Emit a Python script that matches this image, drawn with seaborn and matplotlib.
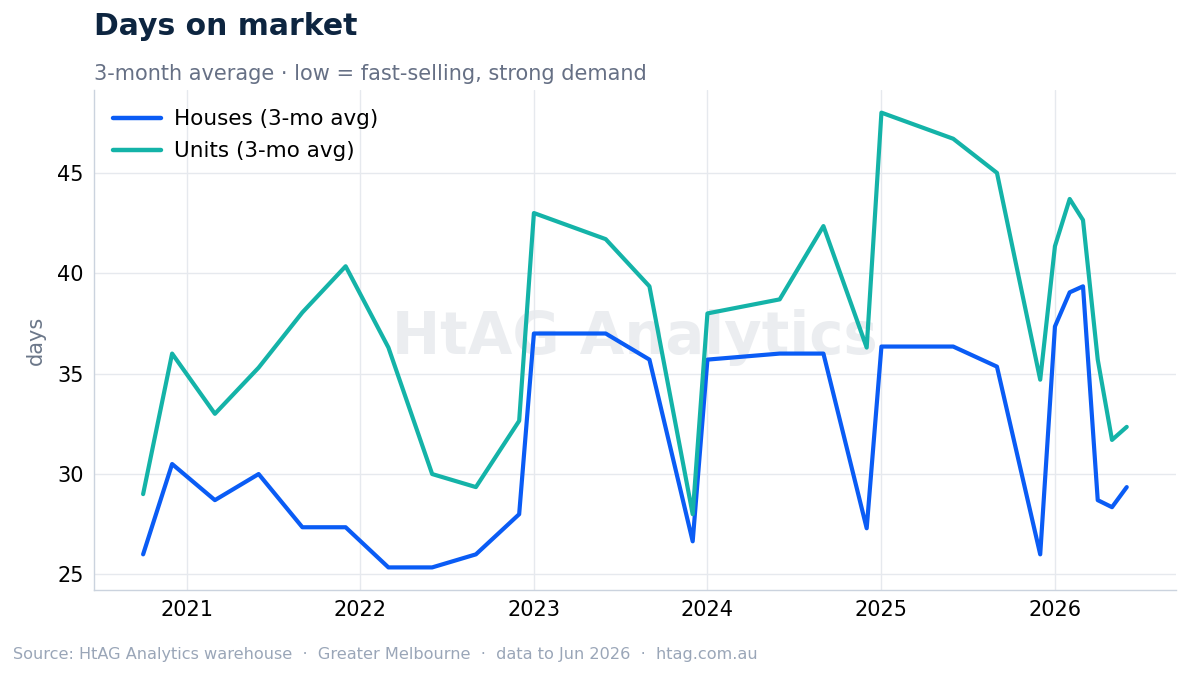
import matplotlib
matplotlib.use("Agg")
import matplotlib.pyplot as plt
import matplotlib.dates as mdates
import seaborn as sns
import pandas as pd

# month-start dates of each 3-month average
months = ["2020-10", "2020-12", "2021-03", "2021-06", "2021-09", "2021-12",
          "2022-03", "2022-06", "2022-09", "2022-12", "2023-01", "2023-06",
          "2023-09", "2023-12", "2024-01", "2024-06", "2024-09", "2024-12",
          "2025-01", "2025-06", "2025-09", "2025-12", "2026-01", "2026-02",
          "2026-03", "2026-04", "2026-05", "2026-06"]
houses = [26.0, 30.5, 28.7, 30.0, 27.35, 27.35, 25.35, 25.35, 26.0, 28.0,
          37.0, 37.0, 35.7, 26.65, 35.7, 36.0, 36.0, 27.3, 36.35, 36.35,
          35.35, 26.0, 37.35, 39.05, 39.35, 28.7, 28.35, 29.35]
units = [29.0, 36.0, 33.0, 35.3, 38.05, 40.35, 36.3, 30.0, 29.35, 32.65,
         43.0, 41.7, 39.35, 28.0, 38.0, 38.7, 42.35, 36.3, 48.0, 46.7,
         45.0, 34.7, 41.35, 43.7, 42.65, 35.7, 31.7, 32.35]

series_names = ["Houses (3-mo avg)", "Units (3-mo avg)"]
palette = {"Houses (3-mo avg)": "#0a5cf5", "Units (3-mo avg)": "#14b3a8"}

df = pd.DataFrame({
    "date": pd.to_datetime(months * 2),
    "days": houses + units,
    "series": [series_names[0]] * len(houses) + [series_names[1]] * len(units),
})

sns.set_style("white")
plt.rcParams["font.family"] = ["DejaVu Sans"]

fig = plt.figure(figsize=(11.89, 6.76), dpi=100)
ax = fig.add_axes([0.079, 0.127, 0.910, 0.740])

sns.lineplot(data=df, x="date", y="days", hue="series", palette=palette,
             linewidth=3.0, ax=ax)

# grid and spines
ax.grid(True, color="#e6e9ee", linewidth=1.0)
ax.set_axisbelow(True)
for side in ["top", "right"]:
    ax.spines[side].set_visible(False)
for side in ["left", "bottom"]:
    ax.spines[side].set_color("#cbd3de")
    ax.spines[side].set_linewidth(1.0)

ax.xaxis.set_major_locator(mdates.YearLocator())
ax.xaxis.set_major_formatter(mdates.DateFormatter("%Y"))
ax.set_yticks([25, 30, 35, 40, 45])
ax.tick_params(axis="both", labelsize=15, colors="black", length=4,
               color="#444444", width=0.8)
ax.tick_params(axis="x", pad=3)
ax.set_xlabel("")
ax.set_ylabel("days", fontsize=15, color="#6b7789", labelpad=8)

leg = ax.legend(loc="upper left", frameon=False, fontsize=15.5,
                handlelength=2.2, handletextpad=0.6, borderaxespad=0.5,
                labelspacing=0.55)
for text in leg.get_texts():
    text.set_color("black")
for line in leg.get_lines():
    line.set_linewidth(3.2)

# watermark
ax.text(0.5, 0.505, "HtAG Analytics", transform=ax.transAxes, ha="center",
        va="center", fontsize=41.5, fontweight="bold", color="#e3e6ea",
        alpha=0.7, zorder=0)

fig.text(0.079, 1 - 12 / 676, "Days on market", fontsize=21.5,
         fontweight="bold", color="#0d2540", va="top")
fig.text(0.079, 1 - 64 / 676,
         "3-month average \u00b7 low = fast-selling, strong demand",
         fontsize=15, color="#667085", va="top")
fig.text(13 / 1189, 1 - 655 / 676,
         "Source: HtAG Analytics warehouse  \u00b7  Greater Melbourne  \u00b7  "
         "data to Jun 2026  \u00b7  htag.com.au",
         fontsize=11.6, color="#9aa6b8", va="center")

fig.savefig("out.png", dpi=100)
